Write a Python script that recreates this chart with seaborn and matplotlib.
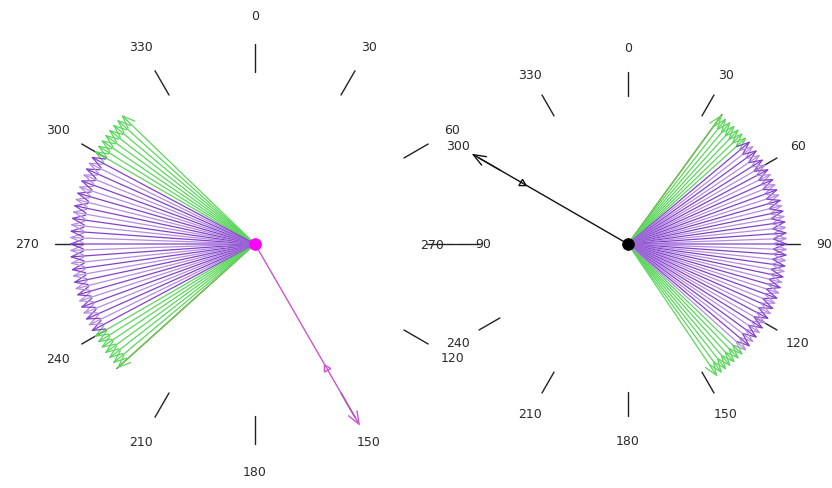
import numpy as np
import matplotlib
matplotlib.use("Agg")
import matplotlib.pyplot as plt
import seaborn as sns
import pandas as pd

sns.set_style("white")
plt.rcParams['font.family'] = ['DejaVu Sans']

# ---- data ----
compass_bearings = [0, 30, 60, 90, 120, 150, 180, 210, 240, 270, 300, 330]
compass_labels = ["0", "30", "60", "90", "120", "150", "180", "210", "240", "270", "300", "330"]

left_green = [228, 230, 232, 234, 236, 238, 240, 300, 302, 304, 306, 308, 310, 312, 314]
left_purple = [242, 244, 246, 248, 250, 252, 254, 256, 258, 260, 262, 264, 266, 268, 270,
               272, 274, 276, 278, 280, 282, 284, 286, 288, 290, 292, 294, 296, 298]
left_edge = [228]
left_pointer = [150]

right_green = [36, 38, 40, 42, 44, 46, 48, 134, 136, 138, 140, 142, 144, 146]
right_purple = [50, 52, 54, 56, 58, 60, 62, 64, 66, 68, 70, 72, 74, 76, 78, 80, 82, 84,
                86, 88, 90, 92, 94, 96, 98, 100, 102, 104, 106, 108, 110, 112, 114, 116,
                118, 120, 122, 124, 126, 128, 130, 132]
right_edge = [36]
right_pointer = [300]

ray_length = 186
pointer_length = 210
tick_inner, tick_outer, label_radius = 172, 200, 228

GREEN = "#5cd65c"
PURPLES = ["#8440cc", "#b48ee0"]
EDGE = "#a0522d"


def xy(bearing, r):
    b = np.deg2rad(bearing)
    return r * np.sin(b), r * np.cos(b)


def arrow(ax, bearing, r, color, lw=0.9, hl=0.9, hw=0.35):
    x, y = xy(bearing, r)
    ax.annotate("", xy=(x, y), xytext=(0, 0),
                arrowprops=dict(arrowstyle=f"->,head_length={hl},head_width={hw}",
                                color=color, lw=lw, shrinkA=0, shrinkB=0,
                                mutation_scale=10))


def draw_compass(ax, green, purple, edge, pointer, pointer_color, dot_color):
    # compass ticks and labels
    for b, lab in zip(compass_bearings, compass_labels):
        x0, y0 = xy(b, tick_inner)
        x1, y1 = xy(b, tick_outer)
        ax.plot([x0, x1], [y0, y1], color="#222222", lw=1.0)
        lx, ly = xy(b, label_radius)
        ax.text(lx, ly, lab, ha="center", va="center", fontsize=9, color="#2a2a2a")
    # fan of rays
    for b in green:
        arrow(ax, b, ray_length, GREEN)
    for i, b in enumerate(purple):
        arrow(ax, b, ray_length, PURPLES[i % 2])
    for b in edge:
        ex, ey = xy(b, ray_length)
        ax.plot([0, ex], [0, ey], color=EDGE, lw=1.0)
    # pointer
    for b in pointer:
        arrow(ax, b, pointer_length, pointer_color, lw=1.0, hl=0.9, hw=0.35)
        tx, ty = xy(b, pointer_length * 0.68)
        ax.plot([tx], [ty], marker=(3, 0, -(b + 180)), ms=6, mfc="none",
                mec=pointer_color, mew=1.0)
    df = pd.DataFrame({"x": [0.0], "y": [0.0]})
    sns.scatterplot(data=df, x="x", y="y", ax=ax, s=70, color=dot_color,
                    edgecolor=dot_color, zorder=5, legend=False)
    ax.set_axis_off()


fig = plt.figure(figsize=(8.32, 4.89), dpi=100)
axL = fig.add_axes([0, 0, 1, 1])
axL.set_xlim(-255, 577)
axL.set_ylim(-244, 245)
draw_compass(axL, left_green, left_purple, left_edge, left_pointer, "#cc55cc", "#ff00ff")

s = 0.86
axR = fig.add_axes([0, 0, 1, 1])
axR.patch.set_alpha(0)
axR.set_xlim(-628 / s, 204 / s)
axR.set_ylim(-244 / s, 245 / s)
draw_compass(axR, right_green, right_purple, right_edge, right_pointer, "#111111", "#000000")

fig.savefig("out.png", dpi=100)
